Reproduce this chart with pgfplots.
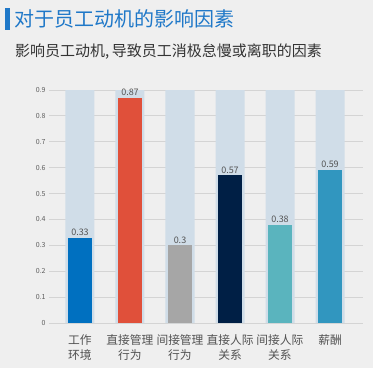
\documentclass[border=0pt]{standalone}
\usepackage{fontspec}
\setmainfont{Noto Sans CJK SC}
\usepackage{pgfplots}
\pgfplotsset{compat=1.18}
\definecolor{bg}{HTML}{EFEFEF}
\definecolor{track}{HTML}{D0DDE8}
\definecolor{titleblue}{HTML}{1F78C8}
\definecolor{c1}{HTML}{0070C0}
\definecolor{c2}{HTML}{E0503A}
\definecolor{c3}{HTML}{A6A6A6}
\definecolor{c4}{HTML}{001F45}
\definecolor{c5}{HTML}{5AB4BE}
\definecolor{c6}{HTML}{3196BF}
\definecolor{txt}{HTML}{333333}
\definecolor{gridc}{HTML}{D4D4D4}
\begin{document}
\begin{tikzpicture}[x=1pt,y=1pt]
\fill[bg] (0,0) rectangle (373,368);
\fill[titleblue] (5,338) rectangle (10,360);
\node[anchor=west, text=titleblue, font=\fontsize{20}{22}\selectfont, inner sep=0] at (14,349) {对于员工动机的影响因素};
\node[anchor=west, text=txt, font=\fontsize{15}{16}\selectfont, inner sep=0] at (15,316) {影响员工动机,\,导致员工消极怠慢或离职的因素};
\begin{axis}[
  at={(49pt,45pt)}, anchor=south west,
  scale only axis, width=314pt, height=233pt,
  xmin=-0.62, xmax=5.66, ymin=0, ymax=0.9,
  axis line style={draw=none},
  ymajorgrids, grid style={gridc, line width=0.8pt},
  ytick={0,0.1,...,0.9},
  yticklabel style={font=\fontsize{7}{8}\selectfont, text=txt!80},
  y tick label style={/pgf/number format/fixed},
  /pgf/number format/assume math mode=true,
  major tick length=0pt,
  xtick={0,1,2,3,4,5},
  xticklabels={工作\\环境, 直接管理\\行为, 间接管理\\行为, 直接人际\\关系, 间接人际\\关系, 薪酬},
  xticklabel style={font=\fontsize{11.75}{15}\selectfont, text=txt!85, align=center, anchor=north, yshift=-8pt},
  ybar, bar shift=0pt,
  nodes near coords,
  every node near coord/.append style={font=\fontsize{9}{10}\selectfont, text=txt!85, /pgf/number format/fixed, inner sep=2pt},
]
\addplot[fill=track, draw=none, bar width=29pt, nodes near coords={}] coordinates {(0,0.9) (1,0.9) (2,0.9) (3,0.9) (4,0.9) (5,0.9)};
\addplot[fill=c1, draw=none, bar width=24pt] coordinates {(0,0.33)};
\addplot[fill=c2, draw=none, bar width=24pt] coordinates {(1,0.87)};
\addplot[fill=c3, draw=none, bar width=24pt] coordinates {(2,0.3)};
\addplot[fill=c4, draw=none, bar width=24pt] coordinates {(3,0.57)};
\addplot[fill=c5, draw=none, bar width=24pt] coordinates {(4,0.38)};
\addplot[fill=c6, draw=none, bar width=24pt] coordinates {(5,0.59)};
\end{axis}
\end{tikzpicture}
\end{document}
